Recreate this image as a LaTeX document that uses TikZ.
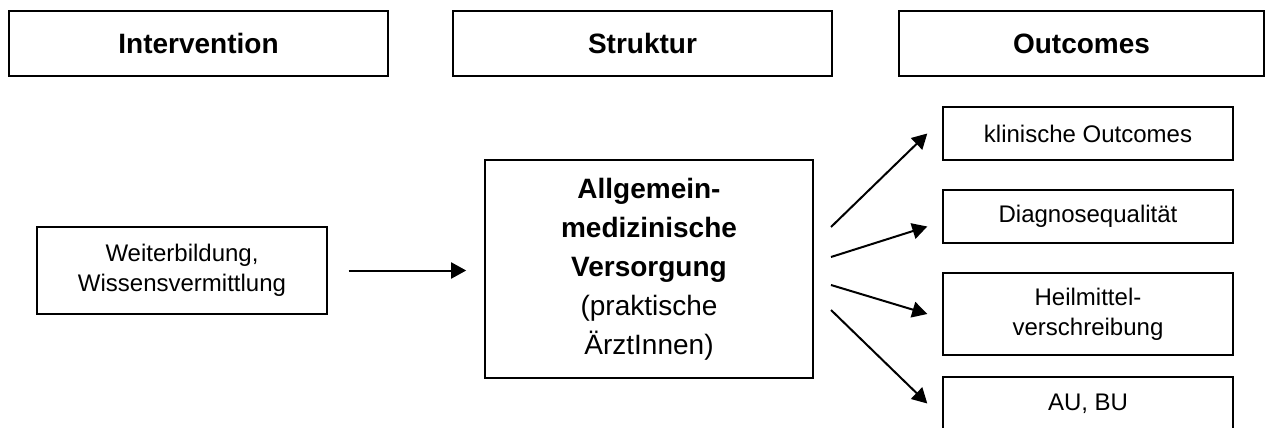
\documentclass[tikz,border=0pt]{standalone}
\usepackage{fontspec}
\setmainfont{Liberation Sans}
\usetikzlibrary{arrows.meta}

\begin{document}
\begin{tikzpicture}[x=0.5pt,y=-0.5pt]
            \tikzset{
            hdr node/.style={draw,line width=0.9pt,minimum width=189.5pt,minimum height=32.5pt,inner sep=0,font=\fontsize{14}{17}\selectfont\bfseries},
            res node/.style={draw,line width=0.7pt,minimum width=145pt,minimum height=26.5pt,inner sep=0,align=center,font=\fontsize{12}{15}\selectfont},
            flow edge/.style={line width=1pt,-{Triangle[length=7.5pt,width=8pt]}}
            }
            \useasboundingbox (0,0) rectangle (1265,428);
            \node[hdr node] (int) at (198.5,43.5) {Intervention};
            \node[hdr node] (str) at (642.5,43.5) {Struktur};
            \node[hdr node,minimum width=182.5pt] (out) at (1081.5,43.5) {Outcomes};
            \node[res node,minimum height=43.5pt] (wb) at (182,270.5) {Weiterbildung,\\Wissensvermittlung};
            \node[draw,line width=0.8pt,minimum width=164pt,minimum height=109pt,inner sep=0,align=center,font=\fontsize{14}{19.5}\selectfont] (amv) at (649,269) {\textbf{Allgemein-}\\\textbf{medizinische}\\\textbf{Versorgung}\\(praktische\\ÄrztInnen)};
            \node[res node] (K1) at (1088,133.5) {klinische Outcomes};
            \node[res node] (K2) at (1088,216.5) {Diagnosequalität};
            \node[res node,minimum height=41pt] (K3) at (1088,314) {Heilmittel-\\verschreibung};
            \node[res node] (K4) at (1088,403.5) {AU, BU};

            \coordinate (s1) at (831,227);
            \coordinate (s2) at (831,257);
            \coordinate (s3) at (831,285);
            \coordinate (s4) at (831,310);

            \path[draw]
            (wb.east) edge[flow edge,shorten <=10.5pt,shorten >=9pt] (wb.east -| amv.west)
            (s1) edge[flow edge] ([xshift=-7.5pt]K1.west)
            (s2) edge[flow edge] ([shift={(-7.5pt,-5pt)}]K2.west)
            (s3) edge[flow edge] ([xshift=-7.5pt]K3.west)
            (s4) edge[flow edge] ([xshift=-7.5pt]K4.west)
            ;
        \end{tikzpicture}
\end{document}
